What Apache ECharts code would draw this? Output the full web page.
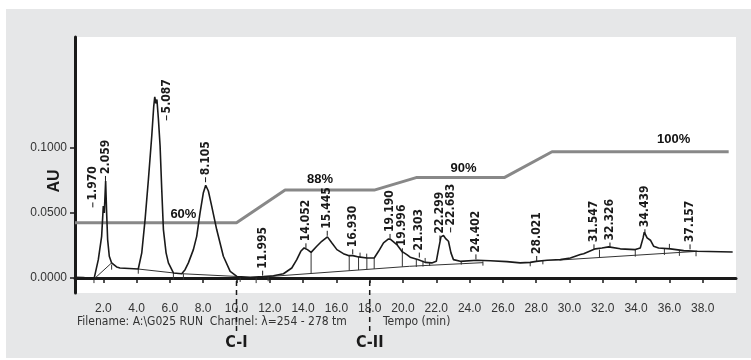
<!DOCTYPE html>
<html>
<head>
<meta charset="utf-8">
<script src="https://cdn.jsdelivr.net/npm/echarts@6.0.0/dist/echarts.min.js"></script>
<style>
  html, body { margin: 0; padding: 0; background: #fff; }
  #chart { width: 751px; height: 360px; }
</style>
</head>
<body>
<div id="chart"></div>
<script>
// tick values on the axes
const xTicks = [2, 4, 6, 8, 10, 12, 14, 16, 18, 20, 22, 24, 26, 28, 30, 32, 34, 36, 38];
const yTicks = [0, 0.05, 0.1];

// chromatogram trace [time (min), AU]
const trace = [
    [0.3, 0.0005], [0.8, 0.0004], [1.44, -0.0008], [1.70, 0.0141], [1.90, 0.032],
    [2.00, 0.0552], [2.06, 0.050], [2.14, 0.0745], [2.20, 0.050], [2.26, 0.0295],
    [2.36, 0.0167], [2.50, 0.0116], [2.80, 0.0085], [3.00, 0.0077], [4.10, 0.0069],
    [4.31, 0.0193], [4.51, 0.045], [4.71, 0.0758], [4.91, 0.109], [5.03, 0.132],
    [5.09, 0.139], [5.16, 0.134], [5.22, 0.137], [5.31, 0.122], [5.41, 0.1015],
    [5.51, 0.068], [5.61, 0.0372], [5.77, 0.0193], [5.91, 0.0116], [6.21, 0.0039],
    [6.71, 0.0033], [6.91, 0.0064], [7.11, 0.0116], [7.41, 0.0218], [7.61, 0.032],
    [7.81, 0.050], [8.01, 0.0655], [8.15, 0.0712], [8.31, 0.0668], [8.51, 0.0552],
    [8.81, 0.0372], [9.21, 0.0167], [9.62, 0.0051], [10.02, 0.0012], [10.82, 0.0005],
    [11.62, 0.0012], [12.22, 0.0018], [12.82, 0.0033], [13.32, 0.0077], [13.62, 0.0141],
    [13.86, 0.0205], [14.06, 0.0231], [14.26, 0.0218], [14.48, 0.0197], [14.82, 0.0244],
    [15.12, 0.0282], [15.46, 0.0316], [15.72, 0.027], [16.03, 0.0218], [16.42, 0.0187],
    [16.72, 0.0172], [16.99, 0.0172], [17.33, 0.0162], [17.83, 0.0154], [18.27, 0.0154],
    [18.53, 0.0205], [18.83, 0.027], [19.13, 0.030], [19.27, 0.0295], [19.63, 0.0257],
    [19.93, 0.0205], [20.23, 0.018], [20.43, 0.016], [20.93, 0.0141], [21.33, 0.012],
    [21.73, 0.0116], [22.0, 0.0128], [22.13, 0.0218], [22.28, 0.0316], [22.43, 0.0326],
    [22.58, 0.030], [22.73, 0.0282], [22.88, 0.0193], [23.03, 0.0141], [23.44, 0.0128],
    [24.44, 0.0136], [25.24, 0.0133], [26.24, 0.0126], [27.04, 0.0116], [27.64, 0.012],
    [28.0, 0.0128], [28.65, 0.0136], [29.45, 0.0141], [30.05, 0.0154], [30.65, 0.018],
    [30.85, 0.0187], [31.55, 0.0224], [31.95, 0.0231], [32.35, 0.0239], [33.05, 0.0224],
    [33.95, 0.0218], [34.25, 0.0231], [34.42, 0.0308], [34.49, 0.0352], [34.66, 0.0308],
    [34.86, 0.029], [35.05, 0.0244], [35.35, 0.0231], [36.06, 0.0224], [36.86, 0.021],
    [37.66, 0.0205], [39.8, 0.020]
];

// integration baselines [t1, au1, t2, au2]
const baselines = [
    [1.44, -0.0008, 2.50, 0.0116],
    [4.10, 0.0069, 6.21, 0.0039],
    [6.71, 0.0033, 10.02, 0.0012],
    [11.6, 0.0008, 20.4, 0.009],
    [20.4, 0.009, 24.8, 0.0118],
    [29.4, 0.0138, 37.7, 0.0205]
];

// peak start / end marks [t, top au, bottom au]
const dropLines = [
    [1.44, 0.0, -0.0039], [2.50, 0.0103, 0.0064], [4.10, 0.0077, 0.0033],
    [6.21, 0.0039, -0.0013], [6.81, 0.0033, -0.0013], [10.22, 0.001, -0.003],
    [11.18, 0.0008, -0.0039], [11.9, 0.0012, -0.0025], [14.48, 0.0197, 0.0035],
    [16.77, 0.0174, 0.0056], [17.33, 0.0162, 0.0061], [17.83, 0.0154, 0.0066],
    [18.27, 0.0154, 0.007], [17.42, 0.0195, 0.0162], [17.82, 0.0187, 0.0154],
    [19.96, 0.0205, 0.0086], [20.8, 0.0145, 0.0085], [21.2, 0.0133, 0.0088],
    [21.33, 0.0154, 0.012], [21.6, 0.0116, 0.0092], [23.5, 0.0128, 0.0103],
    [24.8, 0.0128, 0.0095], [27.64, 0.012, 0.009], [28.4, 0.0133, 0.0105],
    [31.8, 0.0218, 0.0154], [33.95, 0.0218, 0.0164], [35.7, 0.0224, 0.0177],
    [36.0, 0.0262, 0.0224], [36.6, 0.021, 0.017], [37.6, 0.0205, 0.0167]
];

// retention time labels
const peakLabels = ['1.970', '2.059', '5.087', '8.105', '11.995', '14.052', '15.445', '16.930', '19.190', '19.996',
    '21.303', '22.299', '22.683', '24.402', '28.021', '31.547', '32.326', '34.439', '37.157'];
const peakTimes = [1.37, 2.13, 5.80, 8.14, 11.57, 14.17, 15.45, 16.98, 19.22, 19.96,
    20.98, 22.22, 22.86, 24.38, 28.03, 31.47, 32.43, 34.53, 37.24];
const peakLevels = [0.0542, 0.0745, 0.121, 0.0735, 0.0018, 0.0228, 0.0324, 0.0182, 0.030, 0.019,
    0.0157, 0.0288, 0.035, 0.0143, 0.0131, 0.022, 0.0234, 0.0336, 0.022];

// solvent gradient
const gradientTimes = [0.3, 10.0, 12.92, 18.27, 20.79, 26.08, 28.95, 39.56];
const gradientLevels = [0.0424, 0.0424, 0.0675, 0.0675, 0.0771, 0.0771, 0.0969, 0.0969];
const gradientLabels = ['60%', '88%', '90%', '100%'];
const gradientLabelTimes = [6.81, 15.02, 23.64, 36.26];
const gradientLabelLevels = [0.0488, 0.0753, 0.084, 0.106];

// fraction cuts
const cutTimes = [10, 18];
const cutLabels = ['C-I', 'C-II'];

const ink = '#1a1a1a';
const narrow = '"Liberation Sans Narrow", "DejaVu Sans Condensed", sans-serif';

let chart = echarts.init(document.getElementById('chart'));

const options = {
    animation: false,
    backgroundColor: 'transparent',
    graphic: [
        {type: 'rect', z: -10, shape: {x: 6, y: 9, width: 745, height: 349}, style: {fill: '#e6e7e8'}},
        {type: 'text', x: 55, y: 181, rotation: Math.PI / 2,
            style: {text: 'AU', font: 'bold 16px "Liberation Sans", Arial, sans-serif', fill: ink,
                align: 'center', verticalAlign: 'middle', textAlign: 'center', textVerticalAlign: 'middle'}},
        {type: 'text', x: 77, y: 322,
            style: {text: 'Filename: A:\\G025 RUN  Channel: λ=254 - 278 tm', font: '12px ' + narrow, fill: '#333',
                verticalAlign: 'middle', textVerticalAlign: 'middle'}},
        {type: 'text', x: 383, y: 322,
            style: {text: 'Tempo (min)', font: '12px ' + narrow, fill: '#333',
                verticalAlign: 'middle', textVerticalAlign: 'middle'}}
    ],
    grid: {
        left: 75, right: 15, top: 37, bottom: 67,
        show: true, backgroundColor: '#fff', borderWidth: 0
    },
    xAxis: {
        type: 'value',
        min: 0.3,
        max: 40,
        splitLine: {show: false},
        axisLine: {lineStyle: {color: ink, width: 3}},
        axisTick: {customValues: xTicks, length: 5, lineStyle: {color: ink, width: 1.5}},
        axisLabel: {
            customValues: xTicks, margin: 10, color: '#333', fontSize: 12,
            fontFamily: '"Liberation Sans", Arial, sans-serif',
            formatter: v => v.toFixed(1)
        }
    },
    yAxis: {
        type: 'value',
        min: -0.0115,
        max: 0.185,
        splitLine: {show: false},
        axisLine: {lineStyle: {color: ink, width: 3}},
        axisTick: {customValues: yTicks, length: 5, lineStyle: {color: ink, width: 1.5}},
        axisLabel: {
            customValues: yTicks, margin: 8, color: '#333', fontSize: 12,
            fontFamily: '"Liberation Sans", Arial, sans-serif',
            formatter: v => v.toFixed(4)
        }
    },
    series: [
        {
            name: 'gradient',
            type: 'line',
            data: gradientTimes.map((t, i) => [t, gradientLevels[i]]),
            showSymbol: false,
            lineStyle: {color: '#888', width: 3},
            z: 2
        },
        {
            name: 'gradient labels',
            type: 'scatter',
            data: gradientLabelTimes.map((t, i) => [t, gradientLabelLevels[i]]),
            symbolSize: 0,
            itemStyle: {color: '#111', opacity: 1},
            label: {
                show: true, position: 'inside', color: '#111',
                fontWeight: 'bold', fontSize: 13, fontFamily: '"Liberation Sans", Arial, sans-serif',
                formatter: p => gradientLabels[p.dataIndex]
            },
            z: 3
        },
        {
            name: 'baselines',
            type: 'custom',
            data: baselines.concat(dropLines.map(d => [d[0], d[1], d[0], d[2]])),
            renderItem: (params, api) => {
                const a = api.coord([api.value(0), api.value(1)]);
                const b = api.coord([api.value(2), api.value(3)]);
                return {
                    type: 'line',
                    shape: {x1: a[0], y1: a[1], x2: b[0], y2: b[1]},
                    style: {stroke: '#333', lineWidth: 1}
                };
            },
            z: 4
        },
        {
            name: 'trace',
            type: 'line',
            data: trace,
            showSymbol: false,
            lineStyle: {color: ink, width: 1.6},
            z: 5
        },
        {
            name: 'peaks',
            type: 'custom',
            data: peakTimes.map((t, i) => [t, peakLevels[i]]),
            renderItem: (params, api) => {
                const p = api.coord([api.value(0), api.value(1)]);
                return {
                    type: 'group',
                    children: [
                        {type: 'line', shape: {x1: p[0], y1: p[1], x2: p[0], y2: p[1] - 5},
                            style: {stroke: ink, lineWidth: 1}},
                        {type: 'text', x: p[0], y: p[1] - 7, rotation: Math.PI / 2,
                            style: {text: peakLabels[params.dataIndex], font: 'bold 12px ' + narrow, fill: ink,
                                align: 'left', verticalAlign: 'middle', textAlign: 'left', textVerticalAlign: 'middle'}}
                    ]
                };
            },
            z: 6
        },
        {
            name: 'cuts',
            type: 'custom',
            clip: false,
            data: cutTimes.map(t => [t, 0]),
            renderItem: (params, api) => {
                const p = api.coord([api.value(0), 0]);
                return {
                    type: 'group',
                    children: [
                        {type: 'line', shape: {x1: p[0], y1: p[1] + 3, x2: p[0], y2: p[1] + 57},
                            style: {stroke: ink, lineWidth: 1.5, lineDash: [5, 4]}},
                        {type: 'text', x: p[0], y: p[1] + 65,
                            style: {text: cutLabels[params.dataIndex], font: 'bold 16px ' + narrow, fill: ink,
                                align: 'center', verticalAlign: 'middle', textAlign: 'center', textVerticalAlign: 'middle'}}
                    ]
                };
            },
            z: 10
        }
    ]
};

chart.setOption(options);
</script>
</body>
</html>
